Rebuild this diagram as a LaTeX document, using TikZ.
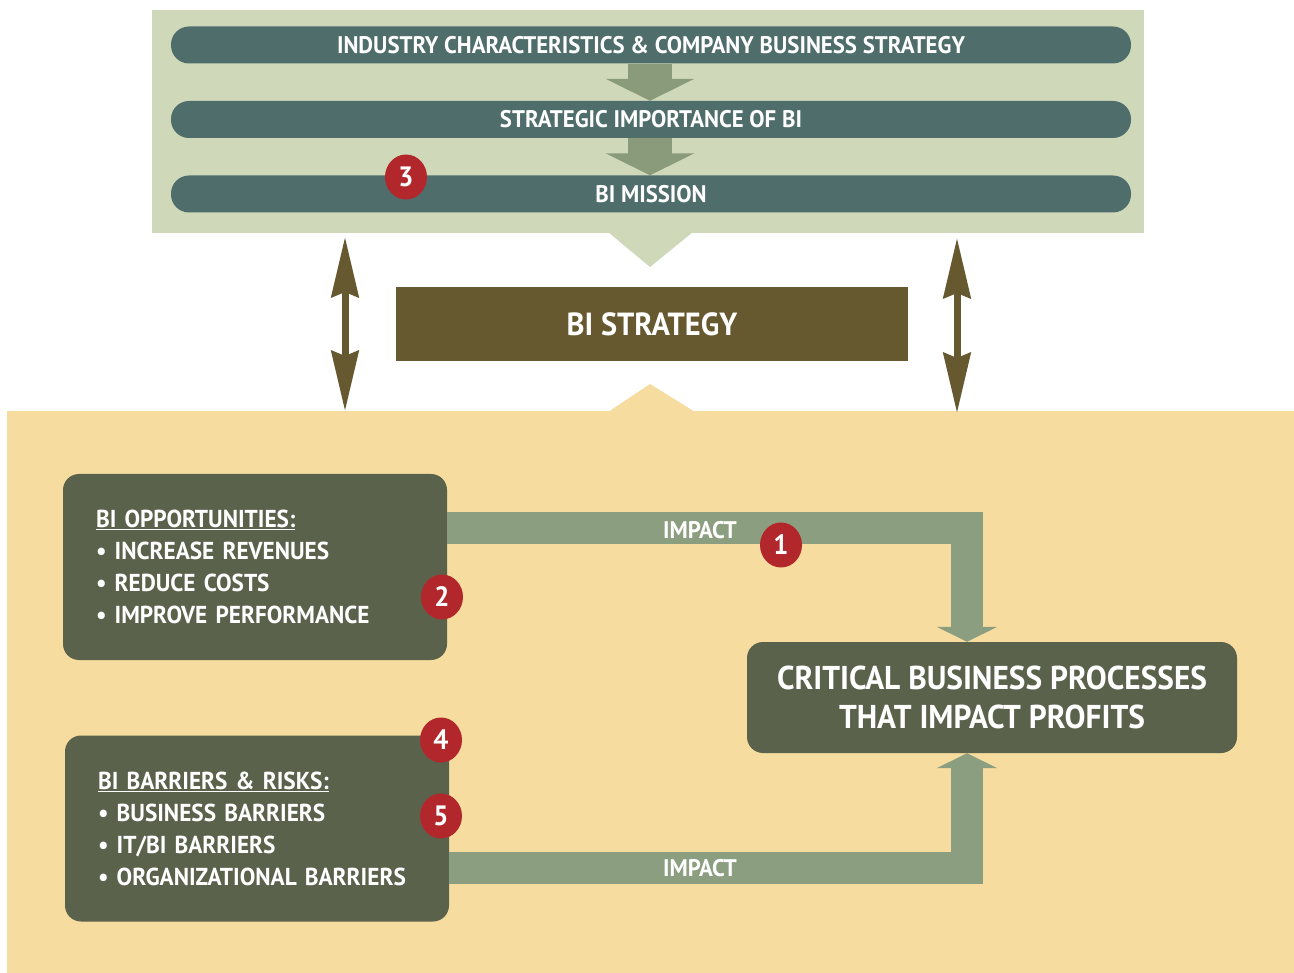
\documentclass[tikz,border=0pt]{standalone}
\usepackage{fontspec}
\setmainfont{PT Sans}[FakeStretch=0.95]
\usetikzlibrary{arrows.meta,shapes.geometric}
\definecolor{topgreen}{HTML}{CFD9BA}
\definecolor{barcol}{HTML}{4E6D6B}
\definecolor{smallarr}{HTML}{8A9B7C}
\definecolor{brownc}{HTML}{66582F}
\definecolor{yellowc}{HTML}{F6DC9E}
\definecolor{darkbox}{HTML}{5A624C}
\definecolor{impactc}{HTML}{8B9E7F}
\definecolor{redc}{HTML}{B2272B}
\tikzset{
  barbox/.style={fill=barcol, rounded corners=18pt, minimum width=960pt, minimum height=37pt, inner sep=0pt, text=white, font=\fontsize{24}{26}\selectfont\bfseries},
  downarr/.style={draw=smallarr, line width=44pt, -{Triangle[width=88pt,length=22pt]}},
  badge/.style={ellipse, fill=redc, minimum width=42pt, minimum height=45pt, inner sep=0pt, text=white, font=\fontsize{28}{28}\selectfont\bfseries},
  dbl/.style={draw=brownc, line width=7pt, {Stealth[length=60pt,width=27pt,inset=5pt]}-{Stealth[length=60pt,width=27pt,inset=5pt]}},
  impact/.style={draw=impactc, line width=32pt, line join=miter, -{Triangle[width=60pt,length=15pt]}},
  impactlabel/.style={text=white, font=\fontsize{24}{26}\selectfont\bfseries, inner sep=0pt},
  darkb/.style={fill=darkbox, rounded corners=16pt, inner sep=0pt, text=white},
  listbox/.style={darkb, minimum width=384pt, minimum height=186pt, text width=318pt, align=left, font=\fontsize{24.5}{32}\selectfont\bfseries}
}
\begin{document}
\begin{tikzpicture}[x=1pt,y=-1pt]
\useasboundingbox[fill=white] (0,0) rectangle (1294,973);
% top panel
\node[fill=topgreen, anchor=north west, minimum width=992pt, minimum height=223pt, inner sep=0pt] (top) at (152,10) {};
\fill[topgreen] (608,232) -- (693,232) -- (650,267) -- cycle;
% bars
\node[barbox] (b1) at (651,45) {INDUSTRY CHARACTERISTICS \& COMPANY BUSINESS STRATEGY};
\node[barbox] (b2) at (651,119.5) {STRATEGIC IMPORTANCE OF BI};
\node[barbox] (b3) at (651,194) {BI MISSION};
\draw[downarr] (b1.south -| 650,0) -- (b2.north -| 650,0);
\draw[downarr] (b2.south -| 650,0) -- (b3.north -| 650,0);
\node[badge] (n3) at (406,177) {3};
% bottom panel
\node[fill=yellowc, anchor=north west, minimum width=1287pt, minimum height=562pt, inner sep=0pt] (bot) at (7,411) {};
\fill[yellowc] (608,412) -- (695,412) -- (650,384) -- cycle;
% BI strategy
\node[fill=brownc, minimum width=512pt, minimum height=74pt, inner sep=0pt, text=white, font=\fontsize{32}{34}\selectfont\bfseries] (bis) at (652,324) {BI STRATEGY};
% double arrows
\coordinate (la1) at (345,237);
\coordinate (la2) at (345,411);
\coordinate (ra1) at (957,238);
\coordinate (ra2) at (957,413);
\draw[dbl] (la1) -- (la2);
\draw[dbl] (ra1) -- (ra2);
% boxes
\node[listbox] (opp) at (255,567) {\underline{BI OPPORTUNITIES:}\\ \textbullet\ INCREASE REVENUES\\ \textbullet\ REDUCE COSTS\\ \textbullet\ IMPROVE PERFORMANCE};
\node[listbox] (barr) at (257,828.5) {\underline{BI BARRIERS \& RISKS:}\\ \textbullet\ BUSINESS BARRIERS\\ \textbullet\ IT/BI BARRIERS\\ \textbullet\ ORGANIZATIONAL BARRIERS};
\node[darkb, minimum width=490pt, minimum height=111pt, align=center, font=\fontsize{33}{39}\selectfont\bfseries] (crit) at (992,697.5) {CRITICAL BUSINESS PROCESSES\\THAT IMPACT PROFITS};
% impact arrows
\draw[impact] (opp.east |- 0,528) -| (crit.north -| 967,0);
\draw[impact] (barr.east |- 0,868) -| (crit.south -| 967,0);
\node[impactlabel] (il1) at (700,530) {IMPACT};
\node[impactlabel] (il2) at (700,868) {IMPACT};
% badges
\node[badge] (n1) at (781,545) {1};
\node[badge] (n2) at (442,597) {2};
\node[badge] (n4) at (441,740) {4};
\node[badge] (n5) at (441,816) {5};
\end{tikzpicture}
\end{document}
